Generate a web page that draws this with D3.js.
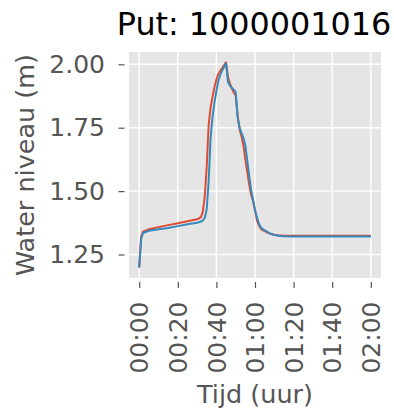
<!DOCTYPE html>
<html>
<head>
<meta charset="utf-8">
<script src="https://cdn.jsdelivr.net/npm/d3@7"></script>
<style>
  html, body { margin: 0; padding: 0; background: #fff; }
  svg { display: block; }
</style>
</head>
<body>
<svg id="chart" width="394" height="410"></svg>
<script>
// ---- data (time in minutes since 00:00) ----
const timeMinutes = [0, 1, 2, 5, 10, 15, 20, 25, 30, 32, 33, 34, 35, 36, 37, 38, 39, 40, 41, 42, 43, 44, 45, 46, 47, 48, 49, 50, 51, 52, 53, 54, 55, 56, 57, 58, 59, 60, 61, 62, 63, 64, 66, 68, 70, 72, 75, 80, 90, 100, 110, 120];
const seriesRed = [1.200, 1.320, 1.340, 1.350, 1.358, 1.366, 1.373, 1.381, 1.389, 1.397, 1.420, 1.481, 1.600, 1.760, 1.830, 1.872, 1.910, 1.940, 1.962, 1.975, 1.985, 1.997, 2.008, 1.950, 1.925, 1.905, 1.888, 1.877, 1.800, 1.745, 1.715, 1.680, 1.625, 1.575, 1.525, 1.485, 1.460, 1.425, 1.385, 1.365, 1.352, 1.346, 1.338, 1.332, 1.328, 1.326, 1.324, 1.324, 1.324, 1.324, 1.324, 1.324];
const seriesBlue = [1.198, 1.310, 1.335, 1.344, 1.350, 1.355, 1.362, 1.369, 1.375, 1.380, 1.384, 1.395, 1.430, 1.540, 1.710, 1.793, 1.850, 1.895, 1.935, 1.958, 1.975, 1.990, 2.003, 1.930, 1.916, 1.908, 1.900, 1.890, 1.790, 1.750, 1.730, 1.710, 1.680, 1.620, 1.560, 1.505, 1.465, 1.425, 1.398, 1.372, 1.358, 1.350, 1.341, 1.332, 1.327, 1.324, 1.322, 1.321, 1.321, 1.321, 1.321, 1.321];
const xTickMinutes = [0, 20, 40, 60, 80, 100, 120];
const xTickLabels = ["00:00", "00:20", "00:40", "01:00", "01:20", "01:40", "02:00"];
const yTickValues = [1.25, 1.50, 1.75, 2.00];
const yTickLabels = ["1.25", "1.50", "1.75", "2.00"];
const titleText = "Put: 1000001016";
const xLabelText = "Tijd (uur)";
const yLabelText = "Water niveau (m)";

// ---- layout ----
const FONT = "DejaVu Sans, sans-serif";
const plot = { left: 129, right: 381, top: 52, bottom: 278 };
const svg = d3.select("#chart");

const tExt = d3.extent(timeMinutes);
const tPad = (tExt[1] - tExt[0]) * 0.044;
const allV = seriesRed.concat(seriesBlue);
const vExt = d3.extent(allV);
const vPad = (vExt[1] - vExt[0]) * 0.05;

const x = d3.scaleLinear().domain([tExt[0] - tPad, tExt[1] + tPad]).range([plot.left, plot.right]);
const y = d3.scaleLinear().domain([vExt[0] - vPad, vExt[1] + vPad]).range([plot.bottom, plot.top]);

// background
svg.append("rect")
  .attr("x", plot.left).attr("y", plot.top)
  .attr("width", plot.right - plot.left).attr("height", plot.bottom - plot.top)
  .attr("fill", "#E5E5E5");

// grid
const grid = svg.append("g").attr("stroke", "#fff").attr("stroke-width", 1.4);
grid.selectAll("line.gx").data(xTickMinutes).join("line")
  .attr("x1", d => x(d)).attr("x2", d => x(d))
  .attr("y1", plot.top).attr("y2", plot.bottom);
grid.selectAll("line.gy").data(yTickValues).join("line")
  .attr("y1", d => y(d)).attr("y2", d => y(d))
  .attr("x1", plot.left).attr("x2", plot.right);

// lines
const line = (vals) => d3.line()
  .x((d, i) => x(timeMinutes[i]))
  .y(d => y(d))(vals);

svg.append("path").attr("d", line(seriesRed))
  .attr("fill", "none").attr("stroke", "#E24A33").attr("stroke-width", 2)
  .attr("stroke-linejoin", "round");
svg.append("path").attr("d", line(seriesBlue))
  .attr("fill", "none").attr("stroke", "#348ABD").attr("stroke-width", 2)
  .attr("stroke-linejoin", "round");

// y axis
const yAxis = d3.axisLeft(y)
  .tickValues(yTickValues)
  .tickFormat((d, i) => yTickLabels[i])
  .tickSize(6).tickPadding(13.5);
const gy = svg.append("g").attr("transform", `translate(${plot.left - 4.5},0)`).call(yAxis);
gy.select(".domain").remove();
gy.selectAll(".tick line").attr("stroke", "#555").attr("stroke-width", 1.2);
gy.selectAll(".tick text").attr("fill", "#555").attr("font-family", FONT).attr("font-size", 25);

// x axis
const xAxis = d3.axisBottom(x)
  .tickValues(xTickMinutes)
  .tickFormat((d, i) => xTickLabels[i])
  .tickSize(6).tickPadding(13.5);
const gx = svg.append("g").attr("transform", `translate(0,${plot.bottom + 4})`).call(xAxis);
gx.select(".domain").remove();
gx.selectAll(".tick line").attr("stroke", "#555").attr("stroke-width", 1.2);
gx.selectAll(".tick text")
  .attr("fill", "#555").attr("font-family", FONT).attr("font-size", 25)
  .attr("transform", "rotate(-90)")
  .attr("x", -19.5).attr("y", 0).attr("dy", "0.35em")
  .attr("text-anchor", "end");

// title & labels
svg.append("text").attr("x", (plot.left + plot.right) / 2 - 1).attr("y", 35)
  .attr("text-anchor", "middle").attr("font-family", FONT).attr("font-size", 31.8)
  .attr("fill", "#000").text(titleText);
svg.append("text").attr("x", (plot.left + plot.right) / 2).attr("y", 403)
  .attr("text-anchor", "middle").attr("font-family", FONT).attr("font-size", 25.5)
  .attr("fill", "#555").text(xLabelText);
svg.append("text")
  .attr("transform", `translate(33.5,${(plot.top + plot.bottom) / 2}) rotate(-90)`)
  .attr("text-anchor", "middle").attr("font-family", FONT).attr("font-size", 25.5)
  .attr("fill", "#555").text(yLabelText);
</script>
</body>
</html>
